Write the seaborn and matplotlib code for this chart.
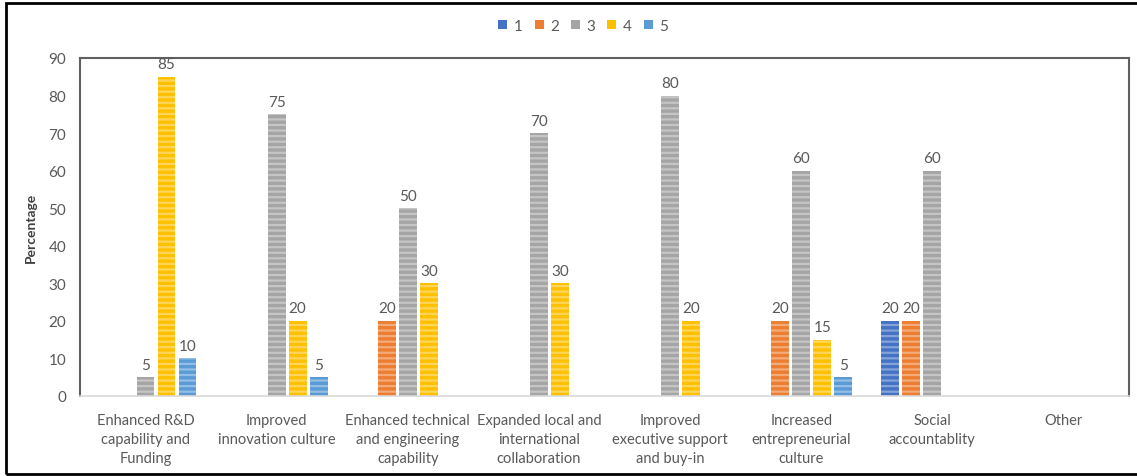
import numpy as np
import pandas as pd
import matplotlib
matplotlib.use("Agg")
import matplotlib.pyplot as plt
import matplotlib.colors as mcolors
from matplotlib.patches import Rectangle
import seaborn as sns

# -------------------------------
# DATA
# -------------------------------
categories = [
    "Enhanced R&D\ncapability and\nFunding",
    "Improved\ninnovation culture",
    "Enhanced technical\nand engineering\ncapability",
    "Expanded local and\ninternational\ncollaboration",
    "Improved\nexecutive support\nand buy-in",
    "Increased\nentrepreneurial\nculture",
    "Social\naccountablity",
    "Other",
]
series_names = ["1", "2", "3", "4", "5"]
s1 = [0, 0, 0, 0, 0, 0, 20, 0]
s2 = [0, 0, 20, 0, 0, 20, 20, 0]
s3 = [5, 75, 50, 70, 80, 60, 60, 0]
s4 = [85, 20, 30, 30, 20, 15, 0, 0]
s5 = [10, 5, 0, 0, 0, 5, 0, 0]
colors = ["#4472C4", "#ED7D31", "#A5A5A5", "#FFC000", "#5B9BD5"]

rows = []
for name, vals in zip(series_names, [s1, s2, s3, s4, s5]):
    for cat, v in zip(categories, vals):
        rows.append({"cat": cat, "series": name, "value": v})
df = pd.DataFrame(rows)

# -------------------------------
# PLOT
# -------------------------------
sns.set_style("white")
plt.rcParams["font.family"] = ["Lato", "DejaVu Sans"]
plt.rcParams["hatch.linewidth"] = 1.6
txt = "#595959"

fig = plt.figure(figsize=(11.37, 4.77), dpi=100)
ax = fig.add_axes([80 / 1137, 1 - 397 / 477, (1129 - 80) / 1137, (397 - 59) / 477])

sns.barplot(data=df, x="cat", y="value", hue="series", order=categories,
            hue_order=series_names, palette=colors, width=0.8, gap=0.15,
            linewidth=0, saturation=1, ax=ax)

# striped look (Excel texture-ish)
for cont, col in zip(ax.containers, colors):
    light = np.array(mcolors.to_rgb(col)) * 0.65 + 0.35
    for bar in cont:
        bar.set_hatch("---")
        bar.set_edgecolor(light)
        bar.set_linewidth(0)
    labels = [f"{v:g}" if v > 0 else "" for v in cont.datavalues]
    ax.bar_label(cont, labels=labels, padding=4, fontsize=11, color=txt)

ax.set_ylim(0, 90)
ax.set_yticks(range(0, 91, 10))
ax.set_xlim(-0.5, len(categories) - 0.5)
ax.set_xlabel("")
ax.set_ylabel("Percentage", fontsize=10, color="#404040", fontweight="bold", labelpad=8)
ax.tick_params(axis="x", length=0, labelsize=10.5, colors=txt, pad=12)
ax.tick_params(axis="y", length=0, labelsize=11, colors=txt, pad=10)
for lab in ax.get_xticklabels():
    lab.set_linespacing(1.45)

for side in ["left", "top", "right"]:
    ax.spines[side].set_visible(True)
    ax.spines[side].set_color("#606060")
    ax.spines[side].set_linewidth(1.5)
ax.spines["bottom"].set_color("#D9D9D9")
ax.spines["bottom"].set_linewidth(1.2)

sns.move_legend(ax, "center", bbox_to_anchor=(583 / 1137, 1 - 27 / 477),
                bbox_transform=fig.transFigure, ncol=5, frameon=False, title=None,
                fontsize=11, handlelength=0.6, handleheight=0.6,
                handletextpad=0.4, columnspacing=0.8)
for t in ax.get_legend().get_texts():
    t.set_color(txt)

# outer frame
fig.patches.append(Rectangle((6 / 1137, 2 / 477), 1 - 6 / 1137 + 0.01, 1 - 6 / 477,
                             transform=fig.transFigure, fill=False,
                             edgecolor="black", linewidth=2))

fig.savefig("out.png", dpi=100)
